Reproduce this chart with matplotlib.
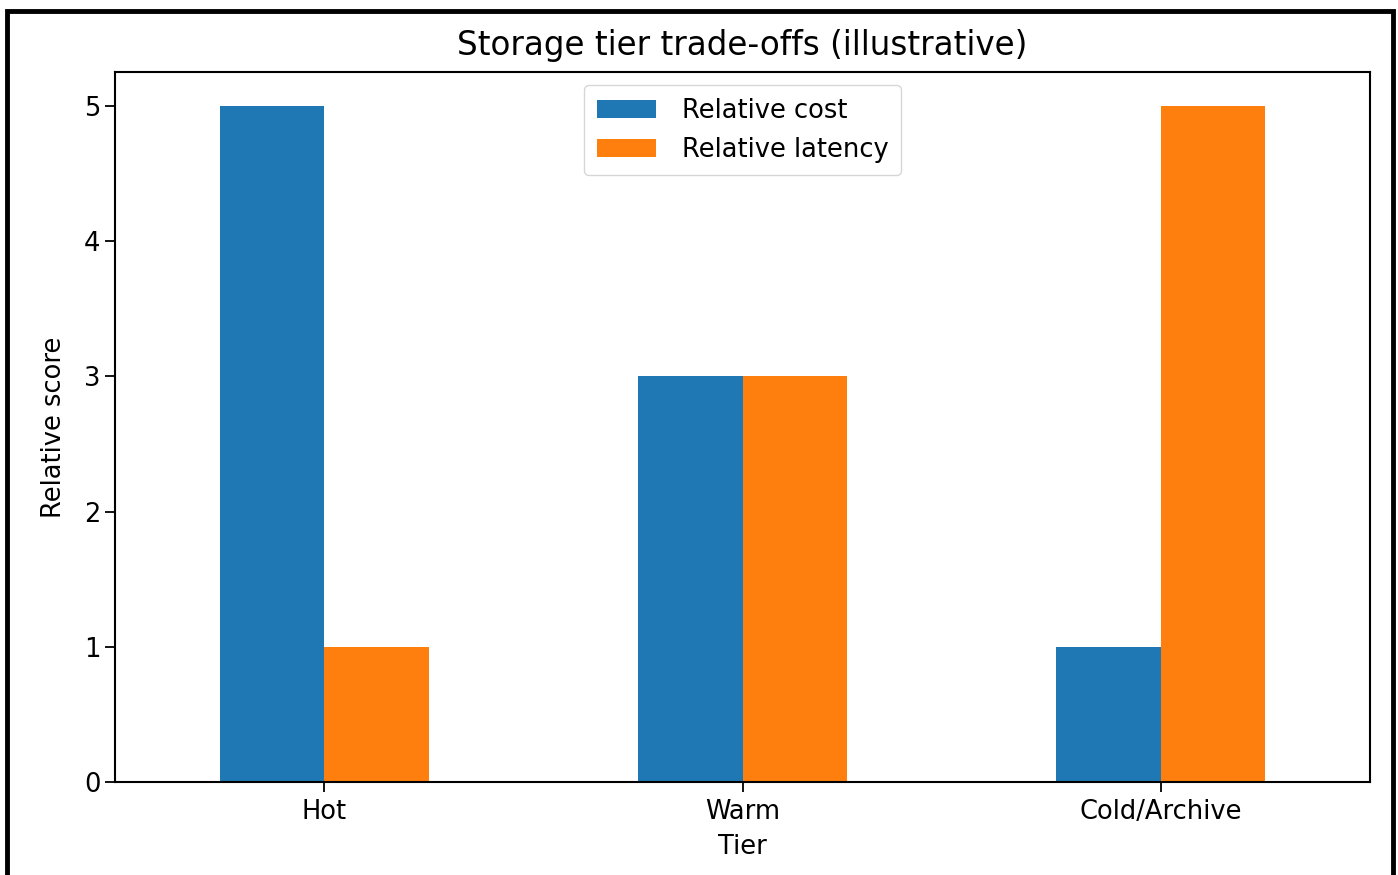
import matplotlib
matplotlib.use("Agg")
import matplotlib.pyplot as plt
from matplotlib.patches import Rectangle
import numpy as np

tiers = ["Hot", "Warm", "Cold/Archive"]
relative_cost = [5, 3, 1]
relative_latency = [1, 3, 5]
series_names = ["Relative cost", "Relative latency"]

fig = plt.figure(figsize=(13.98, 8.75), dpi=100)
ax = fig.add_axes([115 / 1398, 1 - 782 / 875, (1370 - 115) / 1398, (782 - 72) / 875])

x = np.arange(len(tiers))
w = 0.25
ax.bar(x - w / 2, relative_cost, w, color="#1f77b4", label=series_names[0])
ax.bar(x + w / 2, relative_latency, w, color="#ff7f0e", label=series_names[1])

ax.set_xlim(-0.5, len(tiers) - 0.5)
ax.set_ylim(0, 5.25)
ax.set_xticks(x)
ax.set_xticklabels(tiers)
ax.set_yticks(range(0, 6))
ax.tick_params(labelsize=18.5, length=7, width=1.3)
ax.tick_params(axis="x", pad=5)
for s in ax.spines.values():
    s.set_linewidth(1.5)

ax.set_title("Storage tier trade-offs (illustrative)", fontsize=23.5, pad=12)
ax.set_xlabel("Tier", fontsize=18.5, labelpad=7)
ax.set_ylabel("Relative score", fontsize=18.5, labelpad=12)
ax.legend(loc="upper center", fontsize=18.5, handlelength=2.3, handletextpad=1.0,
          borderpad=0.5)

# Frame around the whole figure
fig.patches.append(Rectangle((7 / 1398, -0.05), (1393 - 7) / 1398, 1.05 - 11 / 875,
                             transform=fig.transFigure, fill=False,
                             edgecolor="black", linewidth=3.5))

fig.savefig("out.png", dpi=100)
